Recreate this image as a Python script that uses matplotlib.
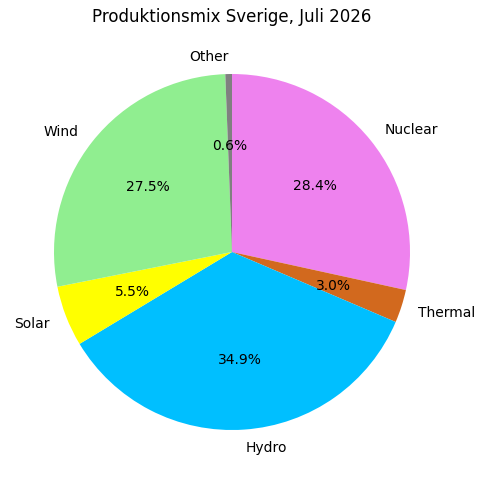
import matplotlib
matplotlib.use("Agg")
import matplotlib.pyplot as plt

labels = ["Nuclear", "Thermal", "Hydro", "Solar", "Wind", "Other"]
shares = [28.4, 3.0, 34.9, 5.5, 27.5, 0.6]
colors = ["violet", "chocolate", "deepskyblue", "yellow", "lightgreen", "gray"]

# pie() puts the axes limits at +-1.25, so size the box for radius ~178 px
fig = plt.figure(figsize=(4.86, 4.85), dpi=100)
ax = fig.add_axes([9.5 / 486, 9.5 / 485, 445 / 486, 445 / 485])
ax.pie(shares, labels=labels, colors=colors, autopct="%1.1f%%",
       startangle=90, counterclock=False)
ax.set_aspect("equal")
fig.suptitle("Produktionsmix Sverige, Juli 2026", fontsize=12,
             x=232 / 486, y=1 - 17 / 485, va="center")

fig.savefig("out.png", dpi=100)
